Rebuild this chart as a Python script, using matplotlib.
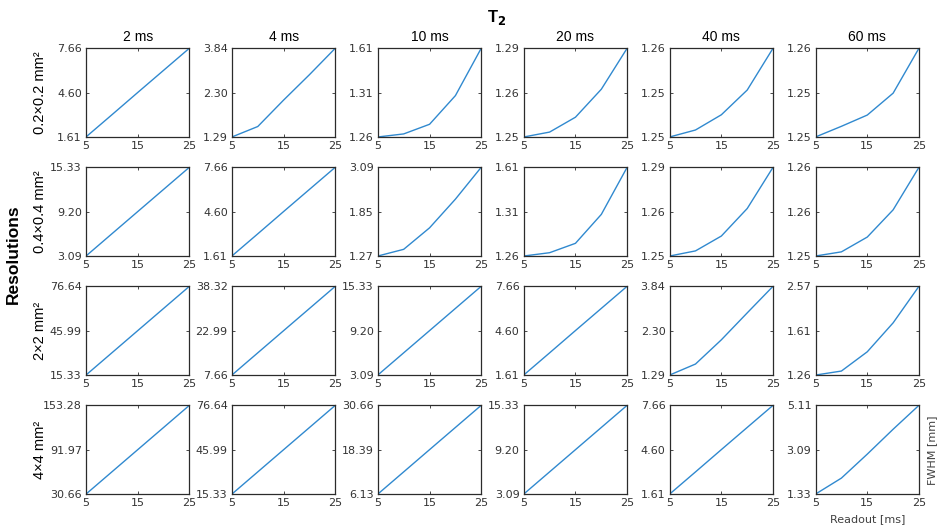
import matplotlib
matplotlib.use("Agg")
import matplotlib.pyplot as plt

# readout durations [ms]
readout = [5, 10, 15, 20, 25]
t2_labels = ["2 ms", "4 ms", "10 ms", "20 ms", "40 ms", "60 ms"]
res_labels = ["0.2\u00d70.2 mm\u00b2", "0.4\u00d70.4 mm\u00b2", "2\u00d72 mm\u00b2", "4\u00d74 mm\u00b2"]

# FWHM [mm] per resolution (rows) and T2 (columns)
fwhm_r1 = [
    [1.61, 3.12, 4.64, 6.15, 7.66],
    [1.29, 1.59, 2.35, 3.08, 3.84],
    [1.26, 1.272, 1.31, 1.423, 1.61],
    [1.25, 1.2522, 1.2589, 1.2715, 1.29],
    [1.248, 1.2491, 1.2515, 1.2554, 1.262],
    [1.247, 1.2488, 1.2507, 1.2544, 1.262],
]
fwhm_r2 = [
    [3.09, 6.15, 9.21, 12.27, 15.33],
    [1.61, 3.12, 4.64, 6.15, 7.66],
    [1.27, 1.407, 1.847, 2.435, 3.09],
    [1.26, 1.273, 1.31, 1.424, 1.61],
    [1.25, 1.2523, 1.259, 1.2714, 1.29],
    [1.248, 1.2487, 1.2512, 1.2558, 1.263],
]
fwhm_r3 = [
    [15.33, 30.66, 45.99, 61.31, 76.64],
    [7.66, 15.33, 22.99, 30.65, 38.32],
    [3.09, 6.15, 9.21, 12.27, 15.33],
    [1.61, 3.12, 4.64, 6.15, 7.66],
    [1.29, 1.606, 2.302, 3.075, 3.84],
    [1.26, 1.319, 1.603, 2.03, 2.57],
]
fwhm_r4 = [
    [30.66, 61.31, 91.97, 122.62, 153.28],
    [15.33, 30.66, 45.99, 61.31, 76.64],
    [6.13, 12.26, 18.40, 24.53, 30.66],
    [3.09, 6.15, 9.21, 12.27, 15.33],
    [1.61, 3.12, 4.64, 6.15, 7.66],
    [1.33, 2.01, 3.03, 4.09, 5.11],
]
fwhm = [fwhm_r1, fwhm_r2, fwhm_r3, fwhm_r4]

# y tick labels (bottom, middle, top) as printed on each panel
ytl_r1 = [["1.61", "4.60", "7.66"], ["1.29", "2.30", "3.84"], ["1.26", "1.31", "1.61"],
          ["1.25", "1.26", "1.29"], ["1.25", "1.25", "1.26"], ["1.25", "1.25", "1.26"]]
ytl_r2 = [["3.09", "9.20", "15.33"], ["1.61", "4.60", "7.66"], ["1.27", "1.85", "3.09"],
          ["1.26", "1.31", "1.61"], ["1.25", "1.26", "1.29"], ["1.25", "1.26", "1.26"]]
ytl_r3 = [["15.33", "45.99", "76.64"], ["7.66", "22.99", "38.32"], ["3.09", "9.20", "15.33"],
          ["1.61", "4.60", "7.66"], ["1.29", "2.30", "3.84"], ["1.26", "1.61", "2.57"]]
ytl_r4 = [["30.66", "91.97", "153.28"], ["15.33", "45.99", "76.64"], ["6.13", "18.39", "30.66"],
          ["3.09", "9.20", "15.33"], ["1.61", "4.60", "7.66"], ["1.33", "3.09", "5.11"]]
yticklabels = [ytl_r1, ytl_r2, ytl_r3, ytl_r4]

xticks = [5, 15, 25]

line_color = "#3089cf"
dark = "#2b2b2b"

fig, axes = plt.subplots(4, 6, figsize=(9.45, 5.29), dpi=100)
fig.subplots_adjust(left=0.091, right=0.9725, top=0.909, bottom=0.066,
                    wspace=0.41, hspace=0.34)

for r in range(4):
    for c in range(6):
        ax = axes[r][c]
        y = fwhm[r][c]
        ax.plot(readout, y, color=line_color, lw=1.0)
        lo, hi = min(y), max(y)
        ax.set_xlim(5, 25)
        ax.set_ylim(lo, hi)
        ax.set_xticks(xticks)
        ax.set_xticklabels([str(v) for v in xticks])
        ax.set_yticks([lo, (lo + hi) / 2, hi])
        ax.set_yticklabels(yticklabels[r][c])
        ax.tick_params(direction="in", top=True, right=True, length=2.5,
                       width=0.6, color=dark, labelcolor="#333333",
                       labelsize=8, pad=3)
        for s in ax.spines.values():
            s.set_color(dark)
            s.set_linewidth(0.9)
        if r == 0:
            ax.set_title(t2_labels[c], fontsize=10, family="Liberation Sans", pad=5)
        if c == 0:
            ax.set_ylabel(res_labels[r], fontsize=10.5, family="Liberation Sans")
            ax.yaxis.set_label_coords(-0.38, 0.5)

fig.text(0.526, 0.966, "T$_\\mathbf{2}$", fontsize=12, fontweight="bold",
         family="Liberation Sans", ha="center", va="center")
fig.text(0.014, 0.52, "Resolutions", fontsize=12.5, fontweight="bold",
         family="Liberation Sans", rotation=90, ha="center", va="center")
fig.text(0.986, 0.148, "FWHM [mm]", fontsize=8, color="#404040",
         rotation=90, ha="center", va="center")
fig.text(0.918, 0.018, "Readout [ms]", fontsize=8, color="#404040",
         ha="center", va="center")

fig.savefig("out.png", dpi=100)
